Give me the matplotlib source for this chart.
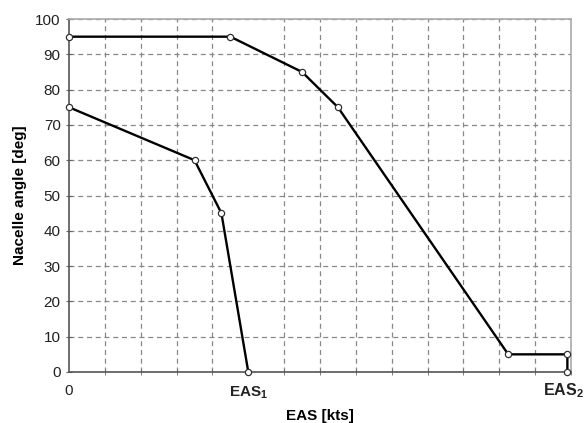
import matplotlib.pyplot as plt

plt.rcParams['font.family'] = ['Liberation Sans', 'DejaVu Sans']
plt.rcParams['mathtext.fontset'] = 'custom'
plt.rcParams['mathtext.rm'] = 'Liberation Sans'
plt.rcParams['mathtext.it'] = 'Liberation Sans'

EAS1 = 5.0
EAS2 = 13.9

# upper boundary (conversion corridor)
upper_x = [0, 4.5, 6.5, 7.5, 12.25, EAS2, EAS2]
upper_y = [95, 95, 85, 75, 5, 5, 0]

# lower boundary
lower_x = [0, 3.5, 4.25, EAS1]
lower_y = [75, 60, 45, 0]

fig = plt.figure(figsize=(5.85, 4.23), dpi=100)
ax = fig.add_axes([0.118, 0.1206, 0.858, 0.8344])

ax.plot(upper_x, upper_y, color='black', lw=1.7, marker='o', ms=4.5,
        mfc='white', mec='#333333', mew=0.9, zorder=3, clip_on=False)
ax.plot(lower_x, lower_y, color='black', lw=1.7, marker='o', ms=4.5,
        mfc='white', mec='#333333', mew=0.9, zorder=3, clip_on=False)

ax.set_xlim(0, 14)
ax.set_ylim(0, 100)

ax.set_xticks(range(15), minor=True)
ax.set_xticks([0, EAS1, EAS2])
ax.set_xticklabels(['0', r'EAS$_{\mathdefault{1}}$', ''])
ax.set_yticks(range(0, 101, 10))

ax.get_xticklabels()[1].set_fontweight('bold')
ax.get_xticklabels()[1].set_fontsize(11.5)

# EAS2 label drawn by hand, nudged left so it stays inside the figure
ax.annotate(r'EAS$_{\mathdefault{2}}$', xy=(EAS2, 0), xycoords='data',
            xytext=(-4, -9), textcoords='offset pixels', ha='center', va='top',
            fontsize=11.5, fontweight='bold', color='#222222',
            annotation_clip=False)

ax.tick_params(axis='both', which='both', direction='inout', length=5,
               color='#666666', labelsize=11, labelcolor='#222222')
ax.tick_params(axis='x', which='major', length=0, pad=9)
ax.tick_params(axis='x', which='minor', pad=9)

ax.grid(True, which='minor', axis='x', color='#888888', ls=(0, (4, 3)), lw=0.9)
ax.grid(True, which='major', axis='y', color='#888888', ls=(0, (4, 3)), lw=0.9)

for side in ['left', 'bottom']:
    ax.spines[side].set_color('#555555')
    ax.spines[side].set_linewidth(1.2)
for side in ['top', 'right']:
    ax.spines[side].set_color('#aaaaaa')
    ax.spines[side].set_linewidth(1.2)

ax.set_xlabel('EAS [kts]', fontsize=11, fontweight='bold', labelpad=6)
ax.set_ylabel('Nacelle angle [deg]', fontsize=11, fontweight='bold', labelpad=6)

fig.savefig('out.png')
